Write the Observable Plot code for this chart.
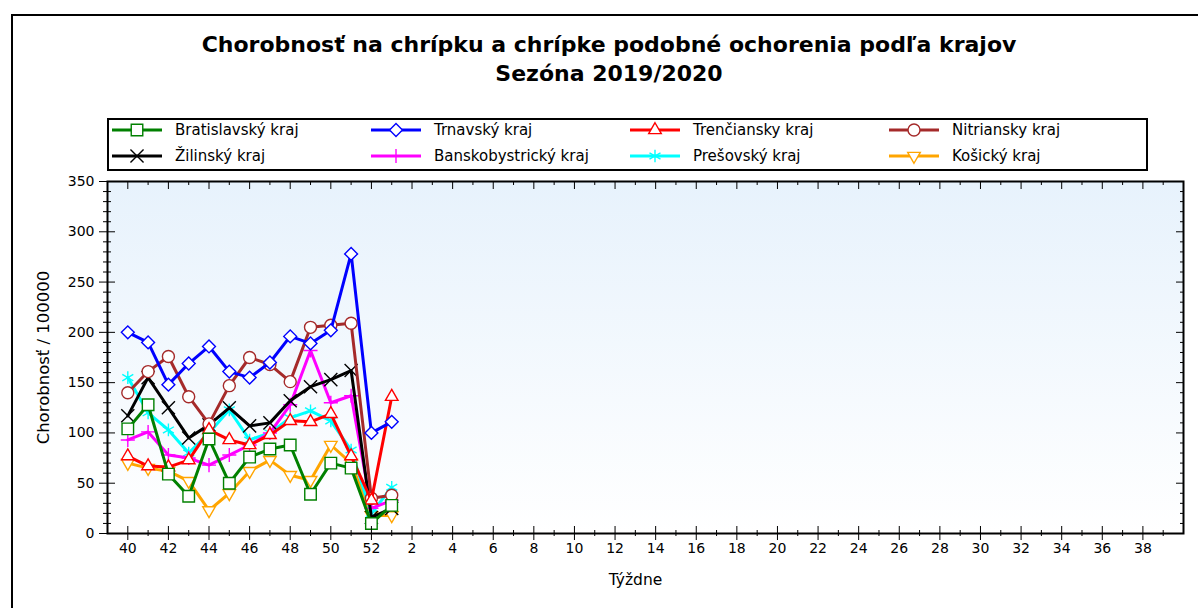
<!DOCTYPE html>
<html>
<head>
<meta charset="utf-8">
<script src="https://cdn.jsdelivr.net/npm/d3@7"></script>
<script src="https://cdn.jsdelivr.net/npm/@observablehq/plot@0.6"></script>
<style>
  body { margin: 0; background: #fff; font-family: "DejaVu Sans", sans-serif; }
  #wrap { position: relative; width: 1198px; height: 608px; overflow: hidden; background: #fff; }
  #outer { position: absolute; left: 11px; top: 14px; width: 1210px; height: 620px; border: 2px solid #000; box-sizing: border-box; }
  #title { position: absolute; left: 0; top: 30px; width: 1218px; text-align: center; font-weight: bold; font-size: 22px; line-height: 29px; color: #000; }
  #legend { position: absolute; left: 107px; top: 118px; width: 1041px; height: 53px; border: 2px solid #000; box-sizing: border-box; background: #fff; }
  .item { position: absolute; height: 20px; display: flex; align-items: center; font-size: 15px; color: #000; white-space: nowrap; }
  .item svg { display: block; margin-right: 13px; }
  #chart { position: absolute; left: 0; top: 0; }
</style>
</head>
<body>
<div id="wrap">
  <div id="outer"></div>
  <div id="chart"></div>
  <div id="title"></div>
  <div id="legend"></div>
</div>
<script>
// ---- texts ----
const titleLines = ["Chorobnosť na chrípku a chrípke podobné ochorenia podľa krajov", "Sezóna 2019/2020"];
const yLabel = "Chorobnosť / 100000";
const xLabel = "Týždne";

// ---- season week labels (x axis order) ----
const seasonWeeks = [40,41,42,43,44,45,46,47,48,49,50,51,52,1,2,3,4,5,6,7,8,9,10,11,12,13,14,15,16,17,18,19,20,21,22,23,24,25,26,27,28,29,30,31,32,33,34,35,36,37,38,39];
// weeks with data
const dataWeeks = [40,41,42,43,44,45,46,47,48,49,50,51,52,1];

// ---- series ----
const regions = ["Bratislavský kraj","Trnavský kraj","Trenčiansky kraj","Nitriansky kraj","Žilinský kraj","Banskobystrický kraj","Prešovský kraj","Košický kraj"];
const regionColors = ["#008000","#0000ff","#ff0000","#a52a2a","#000000","#ff00ff","#00ffff","#ffa500"];
const regionSymbols = ["square","diamond2","triangle2","circle","times","plus","asterisk","triangleDown"];

const bratislavsky    = [104,128, 59, 37, 94, 50, 76, 84, 88, 39, 70, 65, 10, 28];
const trnavsky        = [200,190,148,169,186,161,155,170,196,189,202,278,100,111];
const trenciansky     = [ 77, 67, 66, 73,103, 93, 88, 98,112,111,119, 77, 33,136];
const nitriansky      = [140,161,176,136,109,147,175,168,151,205,207,209, 35, 38];
const zilinsky        = [117,155,125, 95,108,125,107,110,132,146,153,162, 16, 25];
const banskobystricky = [ 93,101, 78, 75, 68, 78, 88,100,128,182,130,137, 25, 33];
const presovsky       = [155,120,103, 80,100,123, 93,100,115,122,112, 83, 20, 46];
const kosicky         = [ 70, 65, 62, 52, 23, 40, 62, 73, 58, 53, 88, 70, 18, 18];
const seriesValues = [bratislavsky, trnavsky, trenciansky, nitriansky, zilinsky, banskobystricky, presovsky, kosicky];

// ---- y ticks ----
const yMajor = [0,50,100,150,200,250,300,350];
const yMinor = d3.range(0, 351, 10).filter(v => v % 50 !== 0);

// symbols
const triangleDown = {
  draw(context, size) {
    const s = Math.sqrt(size) * 0.6824, t = s / 2, u = s * Math.sqrt(3) / 2;
    context.moveTo(0, s); context.lineTo(u, -t); context.lineTo(-u, -t); context.closePath();
  }
};
const symbolMap = {square: d3.symbolSquare, diamond2: d3.symbolDiamond2, triangle2: d3.symbolTriangle2, circle: d3.symbolCircle,
  times: d3.symbolTimes, plus: d3.symbolPlus, asterisk: d3.symbolAsterisk, triangleDown: triangleDown};
const symbolR = {square: 6.5, diamond2: 5.8, triangle2: 6, circle: 6, times: 6, plus: 4.6, asterisk: 6, triangleDown: 6};

// tidy rows
const rows = [];
regions.forEach((name, i) => {
  seriesValues[i].forEach((v, j) => rows.push({region: name, idx: seasonWeeks.indexOf(dataWeeks[j]), value: v}));
});

const xMajor = seasonWeeks.map((w, i) => i).filter(i => i % 2 === 0);
const xMinor = seasonWeeks.map((w, i) => i).filter(i => i % 2 === 1);
const blank = () => "";

const seriesMarks = [];
for (let i = regions.length - 1; i >= 0; i--) {
  const name = regions[i];
  const data = rows.filter(d => d.region === name);
  seriesMarks.push(Plot.line(data, {x: "idx", y: "value", stroke: regionColors[i], strokeWidth: 3}));
  seriesMarks.push(Plot.dot(data, {x: "idx", y: "value", stroke: regionColors[i], fill: "white", strokeWidth: 1.4,
    symbol: symbolMap[regionSymbols[i]], r: symbolR[regionSymbols[i]]}));
}

const plot = Plot.plot({
  width: 1198, height: 608,
  marginTop: 181, marginBottom: 75, marginLeft: 107, marginRight: 15,
  style: {fontFamily: "DejaVu Sans", fontSize: "14px", background: "transparent", color: "#000"},
  x: {domain: [-1, 52]},
  y: {domain: [0, 350]},
  marks: [
    Plot.frame({fill: "url(#bggrad)"}),
    ...seriesMarks,
    // bottom axis
    Plot.axisX({anchor: "bottom", ticks: xMajor, tickSize: 7, tickPadding: 3, tickFormat: i => String(seasonWeeks[i]),
      label: xLabel, labelAnchor: "center", labelArrow: "none", labelOffset: 51}),
    Plot.axisX({anchor: "bottom", ticks: xMajor, tickSize: -7, tickFormat: blank, label: null}),
    Plot.axisX({anchor: "bottom", ticks: xMinor, tickSize: 3, tickFormat: blank, label: null}),
    Plot.axisX({anchor: "bottom", ticks: xMinor, tickSize: -3, tickFormat: blank, label: null}),
    // top ticks
    Plot.axisX({anchor: "top", ticks: xMajor, tickSize: -7, tickFormat: blank, label: null}),
    Plot.axisX({anchor: "top", ticks: xMinor, tickSize: -3, tickFormat: blank, label: null}),
    // left axis
    Plot.axisY({anchor: "left", ticks: yMajor, tickSize: 8, tickPadding: 5, label: yLabel, labelAnchor: "center", labelArrow: "none", labelOffset: 70, fontSize: 14}),
    Plot.axisY({anchor: "left", ticks: yMajor, tickSize: -8, tickFormat: blank, label: null}),
    Plot.axisY({anchor: "left", ticks: yMinor, tickSize: 4, tickFormat: blank, label: null}),
    Plot.axisY({anchor: "left", ticks: yMinor, tickSize: -4, tickFormat: blank, label: null}),
    // right ticks
    Plot.axisY({anchor: "right", ticks: yMajor, tickSize: -8, tickFormat: blank, label: null}),
    Plot.axisY({anchor: "right", ticks: yMinor, tickSize: -4, tickFormat: blank, label: null}),
    Plot.frame({stroke: "#000", strokeWidth: 2})
  ]
});

// gradient background
const svg = d3.select(plot);
const defs = svg.insert("defs", ":first-child");
const grad = defs.append("linearGradient").attr("id", "bggrad").attr("x1", 0).attr("y1", 0).attr("x2", 0).attr("y2", 1);
grad.append("stop").attr("offset", "0%").attr("stop-color", "#e7f2fc");
grad.append("stop").attr("offset", "100%").attr("stop-color", "#ffffff");
// axis-title styling
svg.select('g[aria-label="y-axis label"]').attr("font-size", 16.5);
const xl = svg.select('g[aria-label="x-axis label"]');
xl.attr("font-size", 15.5);
xl.attr("transform", "translate(-10,0) " + (xl.attr("transform") || ""));
document.getElementById("chart").appendChild(plot);

// title
document.getElementById("title").innerHTML = titleLines.map(t => `<div>${t}</div>`).join("");

// legend
const legend = document.getElementById("legend");
regions.forEach((name, i) => {
  const col = i % 4, row = Math.floor(i / 4);
  const item = document.createElement("div");
  item.className = "item";
  item.style.left = (3 + col * 259) + "px";
  item.style.top = (0 + row * 26) + "px";
  const s = d3.create("svg").attr("width", 50).attr("height", 20);
  s.append("line").attr("x1", 0).attr("x2", 50).attr("y1", 10).attr("y2", 10).attr("stroke", regionColors[i]).attr("stroke-width", 3);
  const r = symbolR[regionSymbols[i]];
  s.append("path").attr("transform", "translate(25,10)")
    .attr("d", d3.symbol(symbolMap[regionSymbols[i]], Math.PI * r * r)())
    .attr("fill", "white").attr("stroke", regionColors[i]).attr("stroke-width", 1.4);
  item.appendChild(s.node());
  const span = document.createElement("span");
  span.textContent = name;
  item.appendChild(span);
  legend.appendChild(item);
});
</script>
</body>
</html>
